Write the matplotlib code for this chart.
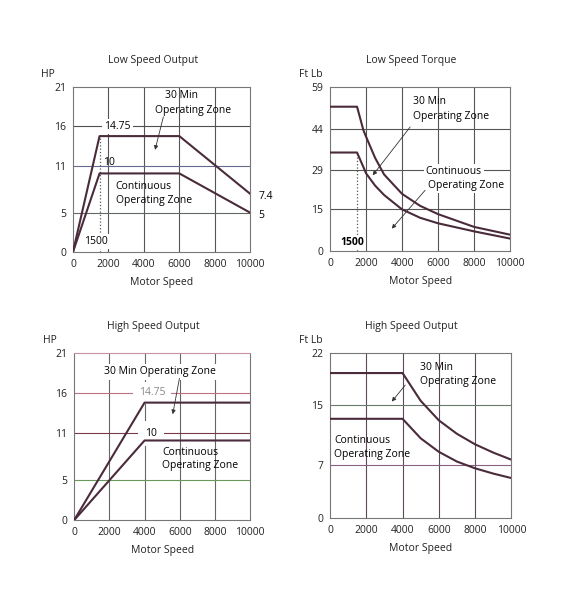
import matplotlib
matplotlib.use("Agg")
import matplotlib.pyplot as plt

plt.rcParams['font.family'] = ['Open Sans', 'DejaVu Sans']
plt.rcParams['font.size'] = 7.5

# ---- data ----
# low speed output (HP)
lso_x = [0, 1500, 6000, 10000]
lso_30min = [0, 14.75, 14.75, 7.4]
lso_cont = [0, 10, 10, 5]

# low speed torque (Ft Lb)
lst_x = [0, 1500, 1850, 2000, 2500, 3000, 4000, 5000, 6000, 8000, 10000]
lst_30min = [51.9, 51.9, 43.5, 41.1, 33.5, 27.5, 20.5, 16.2, 13.2, 8.6, 5.8]
lst_cont = [35.4, 35.4, 30.2, 27.9, 23.5, 20.1, 14.9, 11.9, 9.9, 7.0, 4.4]

# high speed output (HP)
hso_x = [0, 4000, 10000]
hso_30min = [0, 14.75, 14.75]
hso_cont = [0, 10, 10]

# high speed torque (Ft Lb)
hst_x = [0, 4000, 5000, 6000, 7000, 8000, 9000, 10000]
hst_30min = [19.3, 19.3, 15.6, 13.0, 11.2, 9.8, 8.7, 7.75]
hst_cont = [13.2, 13.2, 10.6, 8.8, 7.5, 6.6, 5.9, 5.3]

x_ticks = [0, 2000, 4000, 6000, 8000, 10000]
hp_ticks = [0, 5, 11, 16, 21]
lst_ticks = [0, 15, 29, 44, 59]
hst_ticks = [0, 7, 15, 22]

CURVE = '#4a2b3b'
TXT = '#222222'

fig = plt.figure(figsize=(5.7, 6.0), dpi=100)
ax1 = fig.add_axes([0.128, 0.580, 0.311, 0.275])
ax2 = fig.add_axes([0.579, 0.582, 0.316, 0.273])
ax3 = fig.add_axes([0.130, 0.133, 0.309, 0.279])
ax4 = fig.add_axes([0.579, 0.137, 0.318, 0.275])


def style(ax, title, unit, unit_x, yticks, ycolors, vcolor, top_color='#777777'):
    ax.set_xlim(0, 10000)
    ax.set_ylim(0, yticks[-1])
    ax.set_xticks(x_ticks)
    ax.set_yticks(yticks)
    ax.tick_params(length=0, pad=5, labelsize=7.5, colors=TXT)
    for s in ax.spines.values():
        s.set_color('#777777')
        s.set_linewidth(0.8)
    ax.spines['top'].set_color(top_color)
    for xv in x_ticks[1:-1]:
        ax.axvline(xv, color=vcolor, lw=0.8, zorder=1)
    for yv, c in zip(yticks[1:-1], ycolors):
        ax.axhline(yv, color=c, lw=0.8, zorder=1)
    ax.set_title(title, fontsize=7.5, pad=17, color=TXT, x=0.45)
    ax.set_xlabel('Motor Speed', fontsize=7.5, labelpad=5, color=TXT)
    ax.text(unit_x, 1.04, unit, transform=ax.transAxes, ha='right', va='bottom',
            fontsize=7.5, color=TXT)


def arrow(ax, tip, start):
    ax.annotate('', xy=tip, xytext=start,
                arrowprops=dict(arrowstyle='-|>', lw=0.6, color='#333333',
                                mutation_scale=6, shrinkA=0, shrinkB=0))


wb = dict(fc='white', ec='none', pad=1.5)

# ---- Low Speed Output ----
style(ax1, 'Low Speed Output', 'HP', -0.1, hp_ticks,
      ['#606a60', '#666a90', '#505050'], '#555555')
ax1.plot(lso_x, lso_30min, color=CURVE, lw=1.5, zorder=4)
ax1.plot(lso_x, lso_cont, color=CURVE, lw=1.5, zorder=4)
ax1.vlines(lso_x[1], 0, lso_30min[1], colors='#555555', linestyles=':', lw=0.9, zorder=2)
ax1.text(2500, 16, '14.75', ha='center', va='center', bbox=wb, zorder=3)
ax1.text(1700, 11.4, '10', ha='left', va='center', zorder=3)
ax1.text(1300, 1.3, '1500', ha='center', va='center', bbox=wb, zorder=3)
ax1.text(10450, 7.1, '7.4', ha='left', va='center', clip_on=False)
ax1.text(10450, 4.7, '5', ha='left', va='center', clip_on=False)
ax1.text(5200, 19.9, '30 Min', ha='left', va='center')
ax1.text(4620, 18.0, 'Operating Zone', ha='left', va='center')
ax1.text(2420, 8.3, 'Continuous', ha='left', va='center')
ax1.text(2420, 6.6, 'Operating Zone', ha='left', va='center')
arrow(ax1, (4630, 13.0), (5100, 17.2))

# ---- Low Speed Torque ----
style(ax2, 'Low Speed Torque', 'Ft Lb', -0.04, lst_ticks,
      ['#555555', '#555555', '#555555'], '#555555')
ax2.plot(lst_x, lst_30min, color=CURVE, lw=1.5, zorder=4)
ax2.plot(lst_x, lst_cont, color=CURVE, lw=1.5, zorder=4)
ax2.vlines(lst_x[1], 0, lst_cont[1], colors='#555555', linestyles=':', lw=0.9, zorder=2)
ax2.text(1220, 2.9, '1500', ha='center', va='center', fontweight='bold', bbox=wb, zorder=3)
ax2.text(4630, 53.6, '30 Min', ha='left', va='center')
ax2.text(4630, 48.4, 'Operating Zone', ha='left', va='center')
ax2.text(5320, 28.7, 'Continuous', ha='left', va='center', bbox=wb, zorder=3)
ax2.text(5460, 23.4, 'Operating Zone', ha='left', va='center', bbox=wb, zorder=3)
arrow(ax2, (2370, 27.2), (4450, 44.6))
arrow(ax2, (3430, 8.0), (5280, 21.8))

# ---- High Speed Output ----
style(ax3, 'High Speed Output', 'HP', -0.1, hp_ticks,
      ['#6a9a5a', '#7a3a4a', '#c07080'], '#666666', top_color='#c890a0')
ax3.plot(hso_x, hso_30min, color=CURVE, lw=1.5, zorder=4)
ax3.plot(hso_x, hso_cont, color=CURVE, lw=1.5, zorder=4)
ax3.text(4420, 16, '14.75', ha='center', va='center', color='#888888',
         bbox=dict(fc='white', ec='none', pad=4), zorder=3)
ax3.text(4360, 10.9, '10', ha='center', va='center',
         bbox=dict(fc='white', ec='none', pad=5), zorder=3)
ax3.text(4890, 18.6, '30 Min Operating Zone', ha='center', va='center', bbox=wb, zorder=3)
ax3.text(5010, 8.5, 'Continuous', ha='left', va='center')
ax3.text(5010, 6.85, 'Operating Zone', ha='left', va='center')
arrow(ax3, (5600, 13.3), (5980, 17.8))

# ---- High Speed Torque ----
style(ax4, 'High Speed Output', 'Ft Lb', -0.04, hst_ticks,
      ['#8a6080', '#6a7a6a'], '#5a4a5a')
ax4.plot(hst_x, hst_30min, color=CURVE, lw=1.5, zorder=4)
ax4.plot(hst_x, hst_cont, color=CURVE, lw=1.5, zorder=4)
ax4.text(4950, 20.05, '30 Min', ha='left', va='center')
ax4.text(4950, 18.15, 'Operating Zone', ha='left', va='center')
ax4.text(240, 10.3, 'Continuous', ha='left', va='center')
ax4.text(240, 8.4, 'Operating Zone', ha='left', va='center')
arrow(ax4, (3410, 15.5), (4150, 17.7))

fig.savefig('out.png', dpi=100, facecolor='white')
